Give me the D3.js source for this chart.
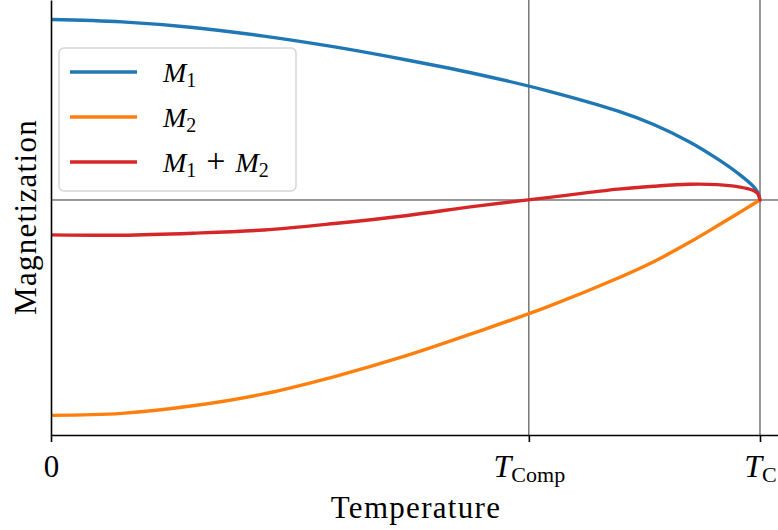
<!DOCTYPE html>
<html><head><meta charset="utf-8">
<script src="https://cdn.jsdelivr.net/npm/d3@7"></script>
<style>body{margin:0;background:#fff} svg{display:block}</style>
</head><body>
<svg id="c" width="778" height="530"></svg>
<script>
// Temperature as fraction of T_C
const T  = [0, 0.1, 0.2, 0.3, 0.4, 0.5, 0.6, 0.7, 0.8, 0.85, 0.9, 0.94, 0.97, 0.99, 0.997, 1];
const M1 = [1.0, 0.987, 0.956, 0.908, 0.848, 0.777, 0.698, 0.605, 0.492, 0.418, 0.323, 0.228, 0.145, 0.078, 0.042, 0];
const M2 = [-1.193, -1.182, -1.140, -1.074, -0.978, -0.864, -0.732, -0.592, -0.432, -0.342, -0.236, -0.143, -0.072, -0.024, -0.007, 0];
const seriesNames = [["M","1"], ["M","2"], ["M","1","M","2"]];
const seriesColors = ["#1f77b4", "#ff7f0e", "#d62728"];
const tickValues = [0, 0.674, 1];
const tickLabels = [["0", ""], ["T", "Comp"], ["T", "C"]];
const refX = [0.674, 1];
const refY = [0];
const xLabel = "Temperature";
const yLabel = "Magnetization";

const SUM = M1.map((v, i) => v + M2[i]);
const series = [M1, M2, SUM];

const svg = d3.select("#c");
const W = 778, H = 530;
const left = 51, bottom = 435;
const x = d3.scaleLinear().domain([0, 1.0254]).range([left, W]);
const y = d3.scaleLinear().domain([-1.302, 1.108]).range([bottom, 0]);
const serif = "'Liberation Serif', 'Times New Roman', serif";

svg.append("defs").append("clipPath").attr("id", "clip")
  .append("rect").attr("x", left).attr("y", 0).attr("width", W - left).attr("height", bottom);

const plot = svg.append("g").attr("clip-path", "url(#clip)");

// reference lines
plot.selectAll("line.rx").data(refX).join("line").attr("class", "rx")
  .attr("x1", d => x(d)).attr("x2", d => x(d)).attr("y1", 0).attr("y2", bottom)
  .attr("stroke", "#333").attr("stroke-width", 1);
plot.selectAll("line.ry").data(refY).join("line").attr("class", "ry")
  .attr("x1", left).attr("x2", W).attr("y1", d => y(d)).attr("y2", d => y(d))
  .attr("stroke", "#333").attr("stroke-width", 1);

const line = d3.line().x(d => x(d[0])).y(d => y(d[1])).curve(d3.curveCatmullRom.alpha(0.5));
series.forEach((s, k) => {
  plot.append("path").datum(T.map((t, i) => [t, s[i]]))
    .attr("d", line).attr("fill", "none")
    .attr("stroke", seriesColors[k]).attr("stroke-width", 3.4)
    .attr("stroke-linecap", "round").attr("stroke-linejoin", "round");
});

// axes
const xAxis = svg.append("g").attr("transform", `translate(0,${bottom})`)
  .call(d3.axisBottom(x).tickValues(tickValues).tickSize(7).tickSizeOuter(0));
xAxis.select(".domain").attr("stroke", "#000").attr("stroke-width", 1.6);
xAxis.selectAll(".tick line").attr("stroke", "#000").attr("stroke-width", 1.6);
xAxis.selectAll(".tick text").each(function(d, i) {
  const t = d3.select(this);
  t.text(null).attr("y", 42).attr("dy", null).attr("font-family", serif).attr("fill", "#000");
  const lab = tickLabels[i];
  if (lab[1] === "") {
    t.append("tspan").attr("font-size", 31).text(lab[0]);
  } else {
    t.append("tspan").attr("font-size", 32).attr("font-style", "italic").text(lab[0]);
    t.append("tspan").attr("font-size", 22).attr("dy", 5).attr("dx", 0).text(lab[1]);
  }
});

const yAxis = svg.append("g").attr("transform", `translate(${left},0)`)
  .call(d3.axisLeft(y).tickValues([]).tickSizeOuter(0));
yAxis.select(".domain").attr("stroke", "#000").attr("stroke-width", 1.6);

// axis labels
svg.append("text").attr("x", 416).attr("y", 518).attr("text-anchor", "middle")
  .attr("font-family", serif).attr("font-size", 31).attr("letter-spacing", 1.3).text(xLabel);
svg.append("text").attr("transform", "translate(36,217) rotate(-90)").attr("text-anchor", "middle")
  .attr("font-family", serif).attr("font-size", 31).attr("letter-spacing", 1.3).text(yLabel);

// legend
const lg = svg.append("g");
lg.append("rect").attr("x", 59).attr("y", 48).attr("width", 237).attr("height", 143)
  .attr("rx", 5).attr("fill", "#fff").attr("fill-opacity", 0.8)
  .attr("stroke", "#d5d5d5").attr("stroke-width", 1.5);
seriesNames.forEach((nm, k) => {
  const yy = 72 + k * 45;
  lg.append("line").attr("x1", 70).attr("x2", 137).attr("y1", yy).attr("y2", yy)
    .attr("stroke", seriesColors[k]).attr("stroke-width", 3.4);
  const tx = lg.append("text").attr("x", 163).attr("y", yy + 10)
    .attr("font-family", serif).attr("font-size", 28).attr("fill", "#000");
  tx.append("tspan").attr("font-style", "italic").text(nm[0]);
  tx.append("tspan").attr("font-size", 20).attr("dy", 5).attr("dx", 0).text(nm[1]);
  if (nm.length > 2) {
    tx.append("tspan").attr("dy", -5).attr("dx", 10).attr("font-size", 34).text("+");
    tx.append("tspan").attr("font-style", "italic").attr("dx", 10).text(nm[2]);
    tx.append("tspan").attr("font-size", 20).attr("dy", 5).attr("dx", 0).text(nm[3]);
  }
});
</script>
</body></html>
